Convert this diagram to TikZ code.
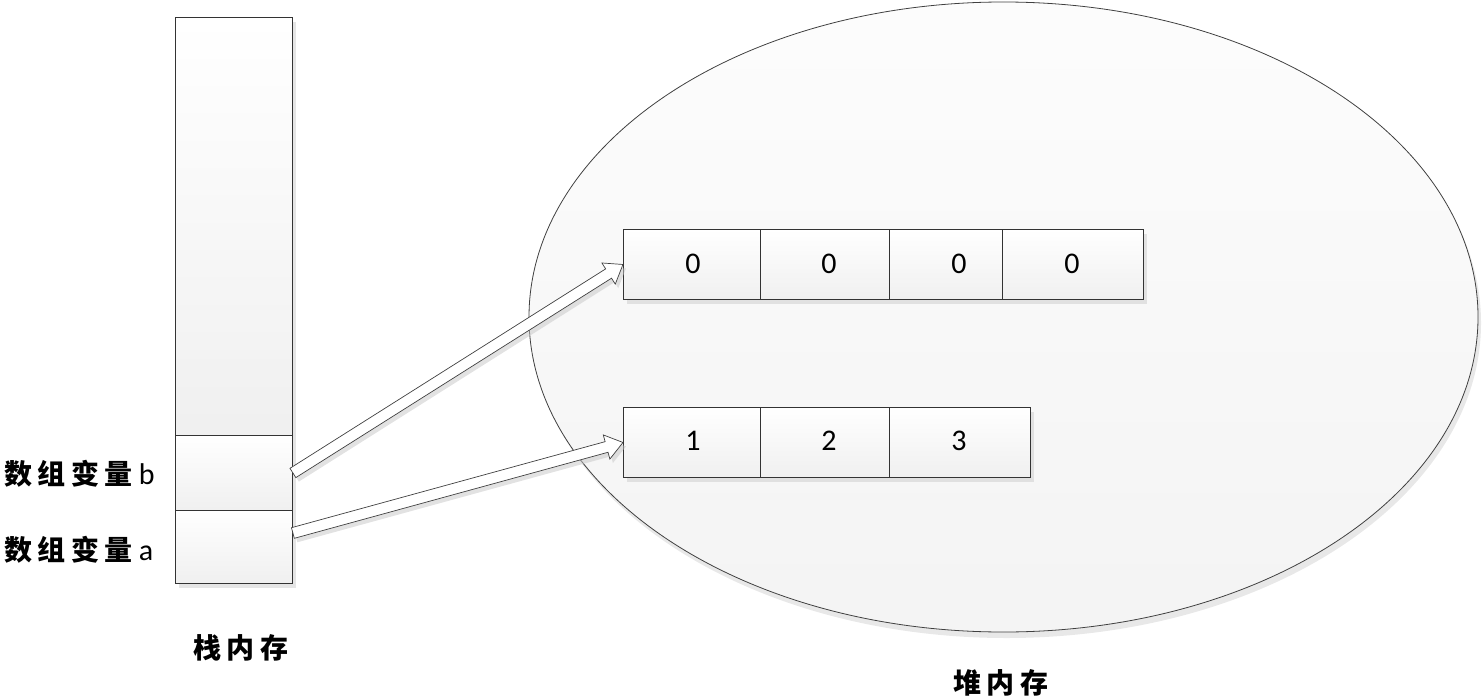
\documentclass[tikz,border=0pt]{standalone}
\usepackage{fontspec}
\setmainfont{Carlito}
\newfontfamily\cjk[LetterSpace=20]{Noto Sans CJK SC}
\usetikzlibrary{shadows,calc}
\begin{document}
\begin{tikzpicture}[x=1pt,y=-1pt,
  box/.style={draw=black!80, line width=0.9pt, inner sep=0pt, anchor=north west,
    top color=white, bottom color=gray!12,
    drop shadow={shadow xshift=4pt, shadow yshift=-5pt, fill=gray!40, opacity=0.5}},
  num/.style={font=\fontsize{30}{30}\selectfont, inner sep=0pt},
  lbl/.style={font=\cjk\bfseries\fontsize{28}{28}\selectfont, inner sep=0pt},
  heap/.style={draw=black!75, line width=0.8pt, top color=gray!2, bottom color=gray!9,
    drop shadow={shadow xshift=3pt, shadow yshift=-6pt, fill=gray!35, opacity=0.5}},
  barrow/.style={draw=black!75, line width=0.7pt, fill=white,
    drop shadow={shadow xshift=3pt, shadow yshift=-4pt, fill=gray!45, opacity=0.5}}
]
\useasboundingbox (0,0) rectangle (1482,698);

% heap ellipse
\path[heap] (1003.5,317) ellipse [x radius=474.5, y radius=315];

% stack
\node[box, minimum width=117pt, minimum height=418pt] (sttop) at (175,17) {};
\node[box, minimum width=117pt, minimum height=75pt] (stb) at (175,435) {};
\node[box, minimum width=117pt, minimum height=73pt] (sta) at (175,510) {};

% array 0 0 0 0
\node[box, minimum width=137pt, minimum height=70pt] (z1) at (623,229) {};
\node[box, minimum width=129pt, minimum height=70pt] (z2) at (760,229) {};
\node[box, minimum width=113pt, minimum height=70pt] (z3) at (889,229) {};
\node[box, minimum width=141pt, minimum height=70pt] (z4) at (1002,229) {};
\node[num] (n01) at (693,264) {0};
\node[num] (n02) at (829,264) {0};
\node[num] (n03) at (959,264) {0};
\node[num] (n04) at (1072,264) {0};

% array 1 2 3
\node[box, minimum width=137pt, minimum height=70pt] (o1) at (623,407) {};
\node[box, minimum width=129pt, minimum height=70pt] (o2) at (760,407) {};
\node[box, minimum width=141pt, minimum height=70pt] (o3) at (889,407) {};
\node[num] (n11) at (693,441) {1};
\node[num] (n12) at (829,441) {2};
\node[num] (n13) at (959,441) {3};

% labels
\node[lbl, anchor=west] (lb) at (4,474) {数组变量\hspace{6pt}{\normalfont\fontsize{30}{30}\selectfont b}};
\node[lbl, anchor=west] (la) at (4,550) {数组变量\hspace{6pt}{\normalfont\fontsize{30}{30}\selectfont a}};
\node[lbl] (lstack) at (241,648) {栈内存};
\node[lbl] (lheap) at (1001,683) {堆内存};

% arrows
\coordinate (tb) at (stb.east);
\coordinate (ta) at ($(sta.north east)+(0,23)$);
\draw[barrow] let \p1=($(z1.west)-(tb)$), \n1={atan2(\y1,\x1)}, \n2={veclen(\x1,\y1)} in
  [shift={(tb)}, rotate=\n1] (0,-5.5) -- ({\n2-17},-5.5) -- ({\n2-17},-12.5) -- (\n2,0)
  -- ({\n2-17},12.5) -- ({\n2-17},5.5) -- (0,5.5) -- cycle;
\draw[barrow] let \p1=($(o1.west)-(ta)$), \n1={atan2(\y1,\x1)}, \n2={veclen(\x1,\y1)} in
  [shift={(ta)}, rotate=\n1] (0,-5.5) -- ({\n2-17},-5.5) -- ({\n2-17},-12.5) -- (\n2,0)
  -- ({\n2-17},12.5) -- ({\n2-17},5.5) -- (0,5.5) -- cycle;
\end{tikzpicture}
\end{document}
